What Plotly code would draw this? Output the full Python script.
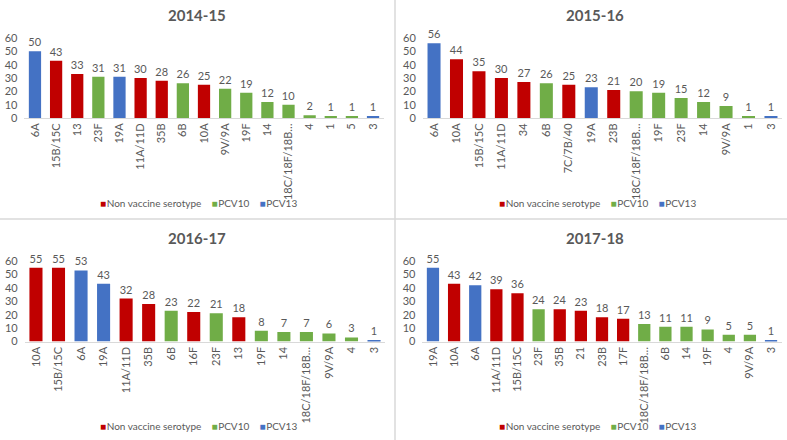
import plotly.graph_objects as go

RED = "#C00000"
GREEN = "#70AD47"
BLUE = "#4472C4"
TXT = "#595959"
FONT = "Lato"
COLORS = {"Non vaccine serotype": RED, "PCV10": GREEN, "PCV13": BLUE}
TYPES = ["Non vaccine serotype", "PCV10", "PCV13"]

titles = ["2014-15", "2015-16", "2016-17", "2017-18"]

cats_1415 = ["6A", "15B/15C", "13", "23F", "19A", "11A/11D", "35B", "6B", "10A",
             "9V/9A", "19F", "14", "18C/18F/18B…", "4", "1", "5", "3"]
vals_1415 = [50, 43, 33, 31, 31, 30, 28, 26, 25, 22, 19, 12, 10, 2, 1, 1, 1]
type_1415 = ["PCV13", "Non vaccine serotype", "Non vaccine serotype", "PCV10", "PCV13",
             "Non vaccine serotype", "Non vaccine serotype", "PCV10", "Non vaccine serotype",
             "PCV10", "PCV10", "PCV10", "PCV10", "PCV10", "PCV10", "PCV10", "PCV13"]

cats_1516 = ["6A", "10A", "15B/15C", "11A/11D", "34", "6B", "7C/7B/40", "19A", "23B",
             "18C/18F/18B…", "19F", "23F", "14", "9V/9A", "1", "3"]
vals_1516 = [56, 44, 35, 30, 27, 26, 25, 23, 21, 20, 19, 15, 12, 9, 1, 1]
type_1516 = ["PCV13", "Non vaccine serotype", "Non vaccine serotype", "Non vaccine serotype",
             "Non vaccine serotype", "PCV10", "Non vaccine serotype", "PCV13",
             "Non vaccine serotype", "PCV10", "PCV10", "PCV10", "PCV10", "PCV10", "PCV10", "PCV13"]

cats_1617 = ["10A", "15B/15C", "6A", "19A", "11A/11D", "35B", "6B", "16F", "23F", "13",
             "19F", "14", "18C/18F/18B…", "9V/9A", "4", "3"]
vals_1617 = [55, 55, 53, 43, 32, 28, 23, 22, 21, 18, 8, 7, 7, 6, 3, 1]
type_1617 = ["Non vaccine serotype", "Non vaccine serotype", "PCV13", "PCV13",
             "Non vaccine serotype", "Non vaccine serotype", "PCV10", "Non vaccine serotype",
             "PCV10", "Non vaccine serotype", "PCV10", "PCV10", "PCV10", "PCV10", "PCV10", "PCV13"]

cats_1718 = ["19A", "10A", "6A", "11A/11D", "15B/15C", "23F", "35B", "21", "23B", "17F",
             "18C/18F/18B…", "6B", "14", "19F", "4", "9V/9A", "3"]
vals_1718 = [55, 43, 42, 39, 36, 24, 24, 23, 18, 17, 13, 11, 11, 9, 5, 5, 1]
type_1718 = ["PCV13", "Non vaccine serotype", "PCV13", "Non vaccine serotype",
             "Non vaccine serotype", "PCV10", "Non vaccine serotype", "Non vaccine serotype",
             "Non vaccine serotype", "Non vaccine serotype", "PCV10", "PCV10", "PCV10", "PCV10",
             "PCV10", "PCV10", "PCV13"]

panels = [(cats_1415, vals_1415, type_1415),
          (cats_1516, vals_1516, type_1516),
          (cats_1617, vals_1617, type_1617),
          (cats_1718, vals_1718, type_1718)]

W, H = 787, 440
# plot-area boxes in pixels: (left, right, top(60), bottom(0))
boxes = [(24.4, 383.6, 38, 118),
         (422.8, 782.2, 38, 118),
         (24.7, 385.3, 261, 341.5),
         (422.4, 781.6, 261, 341.5)]
title_pos = [(197, 15), (595, 15), (197, 238), (595, 238)]
legend_pos = [(198, 203), (597, 203), (199, 426), (597, 426)]

fig = go.Figure()
layout = dict()
for i, ((cats, vals, types), box) in enumerate(zip(panels, boxes)):
    n = i + 1
    xa = "x" if n == 1 else f"x{n}"
    ya = "y" if n == 1 else f"y{n}"
    for t in TYPES:
        xs = [c for c, tt in zip(cats, types) if tt == t]
        ys = [v for v, tt in zip(vals, types) if tt == t]
        fig.add_trace(go.Bar(
            x=xs, y=ys, name=t, marker=dict(color=COLORS[t], line=dict(width=0)),
            text=[str(v) for v in ys], textposition="outside", constraintext="none",
            cliponaxis=False, textfont=dict(size=11, color=TXT, family=FONT),
            xaxis=xa, yaxis=ya, showlegend=False, hoverinfo="x+y"))
    l, r, t_, b = box
    xkey = "xaxis" if n == 1 else f"xaxis{n}"
    ykey = "yaxis" if n == 1 else f"yaxis{n}"
    layout[xkey] = dict(domain=[l / W, r / W], anchor=ya, type="category",
                        categoryorder="array", categoryarray=cats, automargin=False,
                        showline=True, linecolor="#D9D9D9", linewidth=1,
                        ticks="", tickangle=-90, showgrid=False,
                        tickfont=dict(size=11, color=TXT, family=FONT))
    layout[ykey] = dict(domain=[1 - b / H, 1 - t_ / H], anchor=xa, range=[0, 60],
                        dtick=10, showgrid=False, zeroline=False, showline=False,
                        ticks="", ticklabelstandoff=6, automargin=False,
                        tickfont=dict(size=11, color=TXT, family=FONT))

annotations = []
for (tx, ty), title in zip(title_pos, titles):
    annotations.append(dict(text=f"<b>{title}</b>", x=tx / W, y=1 - ty / H,
                            xref="paper", yref="paper", showarrow=False,
                            xanchor="center", yanchor="middle",
                            font=dict(size=15, color=TXT, family=FONT)))

legend_text = "&nbsp;&nbsp;&nbsp;&nbsp;".join(
    f"<span style='color:{COLORS[t]}'>■</span>&#8202;{t}" for t in TYPES)
for lx, ly in legend_pos:
    annotations.append(dict(text=legend_text, x=lx / W, y=1 - ly / H,
                            xref="paper", yref="paper", showarrow=False,
                            xanchor="center", yanchor="middle",
                            font=dict(size=10, color=TXT, family=FONT)))

shapes = [
    dict(type="line", xref="paper", yref="paper", x0=395 / W, x1=395 / W, y0=0, y1=1,
         line=dict(color="#D9D9D9", width=1.5)),
    dict(type="line", xref="paper", yref="paper", x0=0, x1=1, y0=1 - 219 / H, y1=1 - 219 / H,
         line=dict(color="#D9D9D9", width=1.5)),
]

fig.update_layout(**layout)
fig.update_layout(width=W, height=H, margin=dict(l=0, r=0, t=0, b=0),
                  paper_bgcolor="white", plot_bgcolor="white",
                  barmode="relative", bargap=0.42, showlegend=False,
                  annotations=annotations, shapes=shapes,
                  font=dict(family=FONT, color=TXT))

fig.write_html("out.html", config={"displayModeBar": False},
               post_script="document.body.style.margin='0';")
